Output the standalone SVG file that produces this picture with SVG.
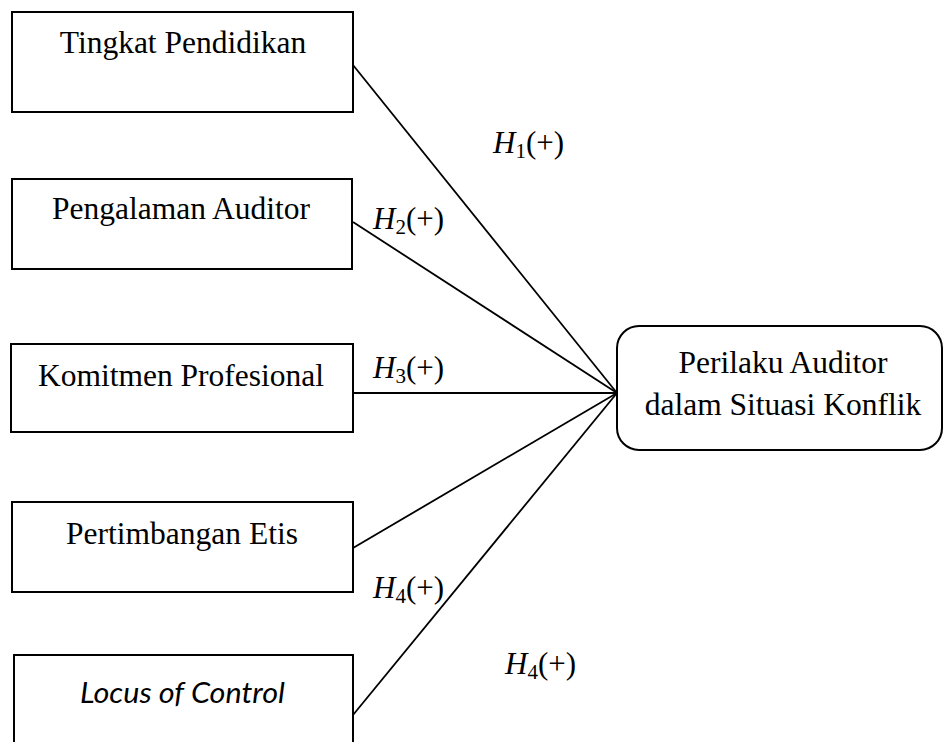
<svg xmlns="http://www.w3.org/2000/svg" width="944" height="742" viewBox="0 0 944 742">
<style>
.box{fill:#fff;stroke:#000;stroke-width:2}
.t{font-family:"Liberation Serif","Times New Roman",serif;font-size:31.5px;fill:#000;text-anchor:middle}
.lc{font-family:Lato,"Liberation Sans",sans-serif;font-style:italic;font-size:29px;fill:#000}
.h{font-family:"Liberation Serif","Times New Roman",serif;font-size:31px;fill:#000}
.hi{font-style:italic}
.sub{font-size:21px}
.c{stroke:#000;stroke-width:1.8;fill:none}
</style>
<rect width="944" height="742" fill="#fff"/>
<g id="connectors">
<line class="c" x1="353" y1="65" x2="617" y2="393"/>
<line class="c" x1="353" y1="222" x2="617" y2="393"/>
<line class="c" x1="353" y1="393" x2="617" y2="393"/>
<line class="c" x1="353" y1="548" x2="617" y2="393"/>
<line class="c" x1="353" y1="715" x2="617" y2="393"/>
</g>
<g id="labels">
<text class="h" x="493" y="153"><tspan class="hi">H</tspan><tspan class="sub" dy="5">1</tspan><tspan dy="-5">(+)</tspan></text>
<text class="h" x="373" y="229"><tspan class="hi">H</tspan><tspan class="sub" dy="5">2</tspan><tspan dy="-5">(+)</tspan></text>
<text class="h" x="373" y="378"><tspan class="hi">H</tspan><tspan class="sub" dy="5">3</tspan><tspan dy="-5">(+)</tspan></text>
<text class="h" x="373" y="598"><tspan class="hi">H</tspan><tspan class="sub" dy="5">4</tspan><tspan dy="-5">(+)</tspan></text>
<text class="h" x="505" y="674"><tspan class="hi">H</tspan><tspan class="sub" dy="5">4</tspan><tspan dy="-5">(+)</tspan></text>
</g>
<g id="n1"><rect class="box" x="12" y="12" width="341" height="100"/><text class="t" x="183" y="53">Tingkat Pendidikan</text></g>
<g id="n2"><rect class="box" x="12" y="179" width="340" height="90"/><text class="t" x="181" y="219">Pengalaman Auditor</text></g>
<g id="n3"><rect class="box" x="11" y="344" width="342" height="88"/><text class="t" x="181" y="386">Komitmen Profesional</text></g>
<g id="n4"><rect class="box" x="12" y="502" width="341" height="90"/><text class="t" x="182" y="544">Pertimbangan Etis</text></g>
<g id="n5"><rect class="box" x="14" y="655" width="339" height="100"/><text class="lc" x="80" y="703" textLength="205" lengthAdjust="spacingAndGlyphs">Locus of Control</text></g>
<g id="target"><rect class="box" x="617" y="326" width="325" height="124" rx="22" ry="22"/><text class="t" x="783" y="373">Perilaku Auditor</text><text class="t" x="783" y="415">dalam Situasi Konflik</text></g>
</svg>
